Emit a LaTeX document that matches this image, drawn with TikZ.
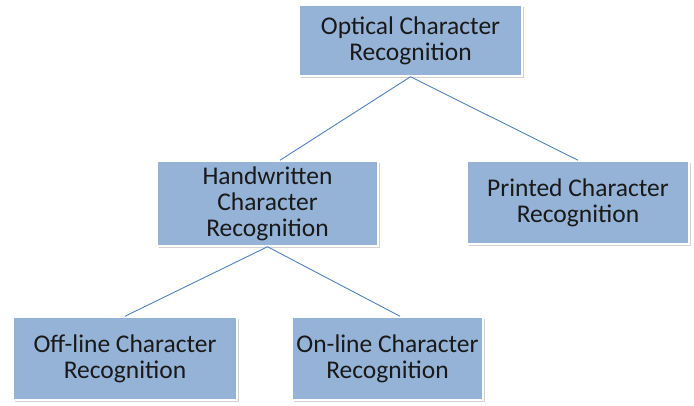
\documentclass[tikz,border=0pt]{standalone}
\usepackage{fontspec}
\setmainfont{Carlito}
\usetikzlibrary{shadows}
\definecolor{boxblue}{HTML}{95B3D7}
\definecolor{linkblue}{HTML}{4F81BD}
\begin{document}
\begin{tikzpicture}[x=1pt,y=1pt,
    box/.style={rectangle,fill=boxblue,draw=white,line width=1.5pt,
        drop shadow={shadow xshift=1.5pt,shadow yshift=-2pt,fill=black!35},
        align=center,text=black!90,inner sep=0pt,
        font=\fontsize{25.5}{26}\selectfont},
    link/.style={linkblue,line width=0.9pt}]
    \useasboundingbox (0,0) rectangle (694,406);
    \node[box,minimum width=223pt,minimum height=71pt] (ocr) at (410.5,365.5) {Optical Character\\Recognition};
    \node[box,minimum width=221pt,minimum height=85pt] (hand) at (267.5,202.5) {Handwritten\\Character\\Recognition};
    \node[box,minimum width=222pt,minimum height=83pt] (print) at (578,203.5) {Printed Character\\Recognition};
    \node[box,minimum width=224pt,minimum height=83pt] (off) at (125,47.5) {Off-line Character\\Recognition};
    \node[box,minimum width=191pt,minimum height=83pt] (on) at (387.5,47.5) {On-line Character\\Recognition};
    \draw[link] (ocr.south) -- ([xshift=12.5pt]hand.north);
    \draw[link] (ocr.south) -- (print.north);
    \draw[link] (hand.south) -- (off.north);
    \draw[link] (hand.south) -- ([xshift=12.5pt]on.north);
\end{tikzpicture}
\end{document}
